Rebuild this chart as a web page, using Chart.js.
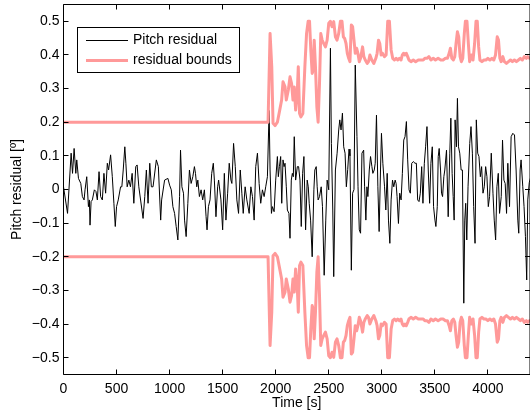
<!DOCTYPE html>
<html>
<head>
<meta charset="utf-8">
<script src="https://cdn.jsdelivr.net/npm/chart.js@4.4.1/dist/chart.umd.min.js"></script>
<style>
  html, body { margin: 0; padding: 0; background: #fff; }
  canvas { display: block; }
</style>
</head>
<body>
<canvas id="chart" width="530" height="412"></canvas>
<script>
// Pitch residual over time [s], values in degrees
const residualTime = [
  0,38,72,85,100,116,125,141,163,178,
  194,203,219,235,244,250,260,272,291,306,
  319,335,350,366,381,397,413,425,444,460,
  475,488,500,516,538,550,563,578,588,600,
  616,631,647,663,681,694,710,750,766,781,
  797,813,828,844,875,894,916,925,953,984,
  1000,1016,1031,1047,1062,1078,1094,1103,1116,1131,
  1141,1156,1172,1187,1203,1219,1234,1244,1256,1266,
  1281,1297,1312,1328,1344,1353,1366,1381,1397,1412,
  1422,1437,1453,1462,1484,1500,1516,1531,1547,1562,
  1578,1587,1603,1619,1634,1650,1666,1681,1694,1712,
  1728,1750,1766,1781,1797,1812,1828,1844,1859,1875,
  1891,1906,1922,1938,1947,1960,1969,1985,2000,2016,
  2025,2035,2047,2057,2069,2079,2088,2100,2110,2125,
  2135,2147,2157,2166,2175,2188,2204,2216,2229,2241,
  2254,2266,2282,2297,2307,2316,2329,2344,2360,2369,
  2382,2391,2400,2413,2429,2441,2457,2472,2485,2500,
  2516,2525,2538,2547,2563,2579,2594,2604,2616,2629,
  2641,2654,2666,2679,2691,2700,2713,2725,2738,2750,
  2766,2776,2788,2800,2813,2829,2838,2850,2860,2869,
  2882,2894,2907,2916,2929,2938,2950,2963,2975,2988,
  2997,3010,3026,3038,3051,3063,3076,3088,3101,3113,
  3126,3135,3144,3157,3169,3182,3194,3207,3219,3232,
  3244,3257,3269,3282,3297,3313,3326,3338,3351,3363,
  3376,3388,3401,3413,3426,3438,3451,3463,3476,3488,
  3501,3510,3523,3532,3541,3554,3563,3573,3585,3594,
  3610,3626,3641,3651,3663,3673,3682,3691,3704,3713,
  3723,3735,3748,3760,3773,3782,3791,3801,3813,3829,
  3841,3854,3866,3879,3891,3904,3916,3929,3941,3954,
  3966,3979,3991,4004,4016,4032,4048,4060,4073,4085,
  4098,4110,4126,4138,4151,4163,4176,4188,4204,4219,
  4235,4251,4266,4282,4291,4304,4313,4329,4341,4354,
  4366,4376,4390,4402
];
const residualValue = [
  0.008,-0.071,0.108,0.048,0.122,0.048,0.088,0.033,0.018,-0.021,
  -0.031,-0.001,0.038,-0.051,-0.031,-0.106,-0.036,-0.031,-0.001,-0.006,
  -0.031,0.053,-0.021,-0.031,0.048,-0.011,0.078,0.058,0.103,0.038,
  -0.041,-0.110,-0.051,-0.031,0.008,0.008,0.058,0.127,0.078,0.008,
  0.028,0.008,0.048,-0.041,0.068,0.073,0.008,-0.086,-0.021,0.058,
  -0.041,0.078,0.008,0.008,0.088,0.068,-0.091,-0.031,0.028,0.033,
  0.013,-0.001,-0.051,-0.071,-0.110,-0.150,-0.021,0.117,0.008,-0.011,
  -0.091,-0.140,-0.041,0.058,0.018,0.038,0.068,0.048,0.008,0.028,
  -0.021,-0.001,-0.031,-0.001,-0.081,-0.120,-0.051,-0.031,0.048,0.078,
  0.028,-0.081,0.008,0.028,-0.031,-0.120,0.048,-0.091,-0.011,0.078,
  0.028,0.018,0.137,0.068,-0.031,-0.071,0.058,-0.011,-0.071,0.008,
  -0.031,-0.071,0.008,-0.021,-0.091,0.068,0.108,0.018,-0.041,-0.001,
  -0.021,0.008,0.038,0.235,0.058,-0.071,-0.051,-0.066,0.028,0.098,
  0.038,0.068,0.098,-0.041,0.088,0.068,0.078,0.008,-0.061,-0.071,
  -0.145,0.028,0.048,0.038,0.157,0.028,0.068,0.068,0.028,-0.110,
  0.048,0.098,-0.120,0.028,0.008,-0.041,-0.091,-0.200,-0.001,0.058,
  0.068,0.008,-0.031,-0.021,0.008,-0.051,-0.255,-0.091,0.028,-0.001,
  0.420,0.137,-0.061,-0.259,0.058,0.108,0.177,0.207,0.177,0.227,
  0.127,0.108,0.008,0.060,0.120,0.100,-0.240,-0.011,0.000,0.370,
  0.157,0.008,-0.120,-0.130,0.108,0.117,0.008,-0.091,0.008,-0.021,
  0.058,0.098,0.068,0.048,0.058,0.078,0.221,0.008,-0.125,0.058,
  0.167,0.078,0.008,-0.061,0.048,-0.091,-0.160,-0.031,0.028,0.008,
  0.028,0.018,-0.021,-0.101,-0.011,-0.031,0.048,0.147,0.157,0.202,
  0.088,-0.001,-0.011,0.078,0.083,0.078,0.078,-0.031,-0.036,-0.011,
  0.068,-0.041,0.078,0.127,0.187,0.058,-0.041,0.078,0.127,-0.051,
  -0.091,-0.110,-0.051,0.098,0.122,0.058,-0.011,-0.021,0.038,0.058,
  0.117,-0.081,0.108,0.212,0.048,-0.021,-0.091,0.207,0.127,0.271,
  0.127,0.108,0.058,0.058,-0.338,-0.091,-0.041,-0.150,0.008,0.137,
  0.187,0.108,-0.051,-0.160,0.207,0.108,0.098,0.038,0.068,-0.011,
  0.008,0.068,0.038,-0.051,-0.021,0.108,-0.011,-0.091,-0.150,0.008,
  0.048,-0.071,-0.021,0.147,0.028,0.018,-0.071,0.078,-0.051,0.157,
  0.167,0.162,0.058,-0.091,-0.130,0.058,0.088,0.008,-0.051,-0.140,
  -0.269,-0.031,0.020,0.035
];

// Residual bound magnitude (the band is ±bound)
const boundTime = [
  0,1928,1947,1963,1975,1994,2016,2038,2056,2069,
  2088,2100,2119,2135,2150,2163,2175,2188,2203,2213,
  2225,2238,2256,2275,2291,2306,2319,2331,2344,2353,
  2363,2375,2388,2400,2413,2425,2438,2453,2469,2485,
  2500,2516,2531,2547,2563,2578,2594,2610,2625,2638,
  2650,2663,2675,2688,2700,2713,2725,2738,2750,2763,
  2775,2788,2800,2819,2831,2844,2863,2875,2888,2906,
  2925,2944,2956,2969,2981,2994,3006,3025,3041,3056,
  3072,3088,3103,3119,3135,3150,3166,3181,3194,3206,
  3219,3231,3244,3256,3275,3297,3319,3344,3369,3391,
  3406,3425,3444,3463,3485,3506,3531,3556,3578,3600,
  3619,3635,3647,3660,3675,3688,3700,3713,3725,3738,
  3750,3763,3778,3788,3803,3816,3828,3844,3860,3875,
  3888,3900,3913,3925,3944,3963,3981,4000,4019,4038,
  4056,4072,4088,4100,4113,4125,4141,4156,4175,4194,
  4213,4231,4250,4269,4288,4306,4325,4344,4363,4375,
  4390,4402
];
const boundValue = [
  0.2,0.2,0.464,0.365,0.197,0.19,0.2,0.236,0.266,0.32,
  0.305,0.266,0.296,0.335,0.315,0.266,0.305,0.236,0.286,0.365,
  0.226,0.216,0.226,0.365,0.464,0.5,0.5,0.415,0.345,0.355,
  0.444,0.365,0.246,0.2,0.315,0.464,0.444,0.434,0.424,0.444,
  0.494,0.5,0.484,0.499,0.454,0.444,0.464,0.5,0.5,0.454,
  0.449,0.434,0.405,0.39,0.38,0.489,0.484,0.444,0.405,0.42,
  0.405,0.38,0.39,0.424,0.395,0.385,0.375,0.38,0.4,0.385,
  0.375,0.39,0.405,0.444,0.434,0.4,0.405,0.395,0.4,0.5,
  0.5,0.415,0.39,0.385,0.39,0.385,0.39,0.385,0.4,0.405,
  0.4,0.405,0.395,0.385,0.38,0.385,0.38,0.385,0.385,0.385,
  0.39,0.39,0.395,0.385,0.39,0.385,0.39,0.385,0.385,0.39,
  0.39,0.405,0.42,0.39,0.385,0.395,0.434,0.469,0.454,0.395,
  0.38,0.39,0.464,0.5,0.5,0.434,0.38,0.4,0.385,0.434,
  0.5,0.5,0.424,0.385,0.38,0.385,0.385,0.39,0.385,0.39,
  0.385,0.4,0.454,0.444,0.39,0.38,0.395,0.38,0.375,0.38,
  0.385,0.38,0.385,0.38,0.385,0.39,0.385,0.395,0.39,0.395,
  0.39,0.39
];

const xTickValues = [0, 500, 1000, 1500, 2000, 2500, 3000, 3500, 4000];
const yTickValues = [-0.5, -0.4, -0.3, -0.2, -0.1, 0, 0.1, 0.2, 0.3, 0.4, 0.5];

const FONT_FAMILY = "'Liberation Sans', Arial, Helvetica, sans-serif";
const FONT_SIZE = 14;
const BOUND_COLOR = '#ff9999';

const toPoints = (xs, ys) => xs.map((x, i) => ({ x: x, y: ys[i] }));
const fmtY = v => {
  if (Math.abs(v) < 1e-9) return '0';
  return (v < 0 ? '\u2212' : '') + Math.abs(v).toFixed(1);
};

// Box frame with inward tick marks on all four sides, plus the in-plot legend
const framePlugin = {
  id: 'frame',
  afterDraw(chart) {
    const { ctx, chartArea: a, scales } = chart;
    const L = a.left, R = a.right, T = a.top, B = a.bottom;
    const len = 5;
    ctx.save();
    ctx.strokeStyle = '#000';
    ctx.lineWidth = 1;
    ctx.beginPath();
    ctx.moveTo(L, T); ctx.lineTo(R, T);
    ctx.moveTo(L, B); ctx.lineTo(R, B);
    ctx.moveTo(L, T); ctx.lineTo(L, B);
    ctx.moveTo(R, T); ctx.lineTo(R, B);
    xTickValues.forEach(v => {
      const px = Math.floor(scales.x.getPixelForValue(v)) + 0.5;
      ctx.moveTo(px, B); ctx.lineTo(px, B - len);
      ctx.moveTo(px, T); ctx.lineTo(px, T + len);
    });
    yTickValues.forEach(v => {
      const py = Math.floor(scales.y.getPixelForValue(v)) + 0.5;
      ctx.moveTo(L, py); ctx.lineTo(L + len, py);
      ctx.moveTo(R, py); ctx.lineTo(R - len, py);
    });
    ctx.stroke();

    // legend
    const bx = 77.5, by = 27.5, bw = 162, bh = 45;
    ctx.fillStyle = '#fff';
    ctx.fillRect(bx, by, bw, bh);
    ctx.strokeRect(bx, by, bw, bh);
    const entries = chart.data.datasets.filter(d => !d.hideInLegend);
    const rows = [40.5, 60.5];
    entries.forEach((d, i) => {
      const y = rows[i];
      ctx.beginPath();
      ctx.strokeStyle = d.borderColor;
      ctx.lineWidth = d.borderWidth;
      ctx.moveTo(86, y); ctx.lineTo(128, y);
      ctx.stroke();
      ctx.fillStyle = '#000';
      ctx.font = FONT_SIZE + 'px ' + FONT_FAMILY;
      ctx.textAlign = 'left';
      ctx.textBaseline = 'middle';
      ctx.fillText(d.label, 133, y);
    });
    ctx.restore();
  }
};

const font = { family: FONT_FAMILY, size: FONT_SIZE };

new Chart(document.getElementById('chart'), {
  type: 'line',
  data: {
    datasets: [
      {
        label: 'Pitch residual',
        data: toPoints(residualTime, residualValue),
        borderColor: '#000',
        borderWidth: 1,
        order: 2
      },
      {
        label: 'residual bounds',
        data: toPoints(boundTime, boundValue),
        borderColor: BOUND_COLOR,
        borderWidth: 3,
        order: 1
      },
      {
        label: 'residual bounds',
        data: toPoints(boundTime, boundValue.map(v => -v)),
        borderColor: BOUND_COLOR,
        borderWidth: 3,
        order: 1,
        hideInLegend: true
      }
    ]
  },
  options: {
    responsive: false,
    animation: false,
    devicePixelRatio: 1,
    // the right-hand frame edge sits just past the canvas edge
    layout: { padding: { top: 4.5, left: 0, right: -2.5, bottom: 0 } },
    elements: {
      point: { radius: 0 },
      line: { tension: 0, borderJoinStyle: 'round', borderCapStyle: 'round' }
    },
    plugins: { legend: { display: false }, tooltip: { enabled: false } },
    scales: {
      x: {
        type: 'linear',
        min: 0,
        max: 4397,
        grid: { display: false, drawTicks: false },
        border: { display: false },
        afterBuildTicks: s => { s.ticks = xTickValues.map(v => ({ value: v })); },
        afterFit: s => {
          s.height = 37.5;
          s.paddingLeft = 0; s.paddingRight = 0;
        },
        ticks: { font: font, color: '#000', padding: 6, maxRotation: 0, autoSkip: false, callback: v => String(v) },
        title: { display: true, text: 'Time [s]', font: font, color: '#000', padding: { top: 0, bottom: 0 } }
      },
      y: {
        type: 'linear',
        min: -0.55,
        max: 0.55,
        grid: { display: false, drawTicks: false },
        border: { display: false },
        afterBuildTicks: s => { s.ticks = yTickValues.map(v => ({ value: v })); },
        afterFit: s => {
          s.width = 63.5;
          s.paddingTop = 0; s.paddingBottom = 0;
        },
        ticks: { font: font, color: '#000', padding: 4, autoSkip: false, callback: v => fmtY(v) },
        title: { display: true, text: 'Pitch residual [\u00ba]', font: font, color: '#000', padding: { top: 9, bottom: 0 } }
      }
    }
  },
  plugins: [framePlugin]
});
</script>
</body>
</html>
